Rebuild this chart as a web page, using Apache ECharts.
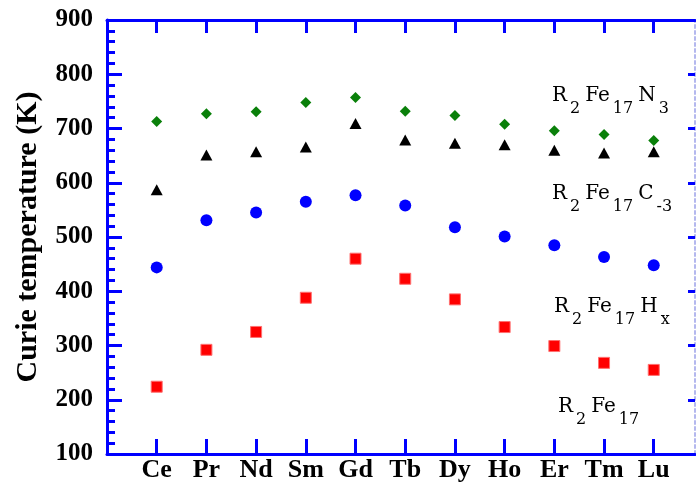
<!DOCTYPE html>
<html><head><meta charset="utf-8">
<script src="https://cdn.jsdelivr.net/npm/echarts@6/dist/echarts.min.js"></script>
<style>html,body{margin:0;padding:0;background:#fff}#c{width:696px;height:483px}</style>
</head><body><div id="c"></div>
<script>
const elements = ['Ce','Pr','Nd','Sm','Gd','Tb','Dy','Ho','Er','Tm','Lu'];
const tcN3   = [713, 727, 731, 748, 757, 732, 724, 708, 696, 689, 678];
const tcC3   = [587, 651, 657, 666, 709, 679, 673, 670, 660, 655, 657];
const tcHx   = [444, 531, 545, 565, 577, 558, 518, 501, 485, 463, 448];
const tcBare = [224, 292, 325, 388, 460, 423, 385, 334, 299, 268, 255];
const yMin = 100, yMax = 900, yStep = 100;
const xPositions = elements.map((e, i) => i + 1);

// formula labels: [text, isSubscript]
const formulaN3   = [['R',0],['2',1],['Fe',0],['17',1],['N',0],['3',1]];
const formulaC3   = [['R',0],['2',1],['Fe',0],['17',1],['C',0],['-3',1]];
const formulaHx   = [['R',0],['2',1],['Fe',0],['17',1],['H',0],['x',1]];
const formulaBare = [['R',0],['2',1],['Fe',0],['17',1]];

// layout (pixels) of the formula labels
const annLayout = [
  {parts: formulaN3,   x: 552, base: 101},
  {parts: formulaC3,   x: 552, base: 199},
  {parts: formulaHx,   x: 554, base: 312},
  {parts: formulaBare, x: 558, base: 412}
];

const BLUE = '#0000ff';
const SERIF = '"Liberation Serif", "Times New Roman", serif';
const MAIN_FONT = '20px "DejaVu Serif"';
const SUB_FONT = '16px "DejaVu Serif"';

function pts(arr) { return arr.map((v, i) => [xPositions[i], v]); }

const ctx = document.createElement('canvas').getContext('2d');
function measure(t, font) { ctx.font = font; ctx.textBaseline = 'middle'; return ctx.measureText(t); }

function buildAnn() {
  const out = [];
  const mainOff = measure('R', MAIN_FONT).actualBoundingBoxDescent;
  const subOff = measure('0', SUB_FONT).actualBoundingBoxDescent;
  annLayout.forEach(a => {
    let x = a.x;
    a.parts.forEach(([t, sub]) => {
      const font = sub ? SUB_FONT : MAIN_FONT;
      if (sub) x += 3;
      const w = measure(t, font).width;
      const y = sub ? (a.base + 12 - subOff) : (a.base - mainOff);
      out.push({type: 'text', x: x, y: y, z: 10, silent: true,
        style: {text: t, font: font, fill: '#000', align: 'left', verticalAlign: 'middle'}});
      x += w;
      if (sub) x += 5;
    });
  });
  return out;
}

const chart = echarts.init(document.getElementById('c'), null, {renderer: 'canvas'});

chart.setOption({
  animation: false,
  backgroundColor: '#fff',
  grid: {left: 107, right: 1, top: 20, bottom: 29, containLabel: false},
  xAxis: [{
    type: 'value', position: 'bottom', min: 0, max: 11.83,
    axisLine: {show: true, onZero: false, lineStyle: {color: BLUE, width: 3}},
    axisTick: {show: true, inside: true, length: 15, customValues: xPositions, lineStyle: {color: BLUE, width: 3}},
    axisLabel: {show: true, customValues: xPositions, margin: 3, formatter: v => elements[Math.round(v) - 1] || '',
      fontFamily: SERIF, fontWeight: 'bold', fontSize: 26, color: '#000'},
    splitLine: {show: false}
  }, {
    type: 'value', position: 'top', min: 0, max: 11.83,
    axisLine: {show: true, onZero: false, lineStyle: {color: BLUE, width: 3}},
    axisTick: {show: true, inside: true, length: 13, customValues: xPositions, lineStyle: {color: BLUE, width: 3}},
    axisLabel: {show: false},
    splitLine: {show: false}
  }],
  yAxis: [{
    type: 'value', position: 'left', min: yMin, max: yMax, interval: yStep,
    name: 'Curie temperature (K)', nameLocation: 'middle', nameGap: 64, nameRotate: 90,
    nameTextStyle: {fontFamily: SERIF, fontWeight: 'bold', fontSize: 30, color: '#000'},
    axisLine: {show: true, onZero: false, lineStyle: {color: BLUE, width: 3}},
    axisTick: {show: true, inside: true, length: 15, lineStyle: {color: BLUE, width: 3}},
    minorTick: {show: true, splitNumber: 5, length: 8, lineStyle: {color: BLUE, width: 3}},
    axisLabel: {margin: 14, fontFamily: SERIF, fontWeight: 'bold', fontSize: 25, color: '#000'},
    splitLine: {show: false}
  }, {
    type: 'value', position: 'right', min: yMin, max: yMax, interval: yStep,
    axisLine: {show: true, onZero: false, lineStyle: {color: '#b4b8ee', width: 2, type: [3, 3]}},
    axisTick: {show: true, inside: true, length: 7, lineStyle: {color: BLUE, width: 3}},
    axisLabel: {show: false},
    splitLine: {show: false}
  }],
  series: [
    {type: 'scatter', name: 'R2Fe17N3', data: pts(tcN3), symbol: 'diamond', symbolSize: [11, 11],
     itemStyle: {color: '#0a800a', opacity: 1}},
    {type: 'scatter', name: 'R2Fe17C3', data: pts(tcC3), symbol: 'triangle', symbolSize: [12, 11],
     itemStyle: {color: '#000', opacity: 1}},
    {type: 'scatter', name: 'R2Fe17Hx', data: pts(tcHx), symbol: 'circle', symbolSize: 12,
     itemStyle: {color: BLUE, opacity: 1}},
    {type: 'scatter', name: 'R2Fe17', data: pts(tcBare), symbol: 'rect', symbolSize: 11,
     itemStyle: {color: '#ff0000', borderColor: '#ff7070', borderWidth: 1, opacity: 1}}
  ],
  graphic: buildAnn()
});
</script>
</body></html>
